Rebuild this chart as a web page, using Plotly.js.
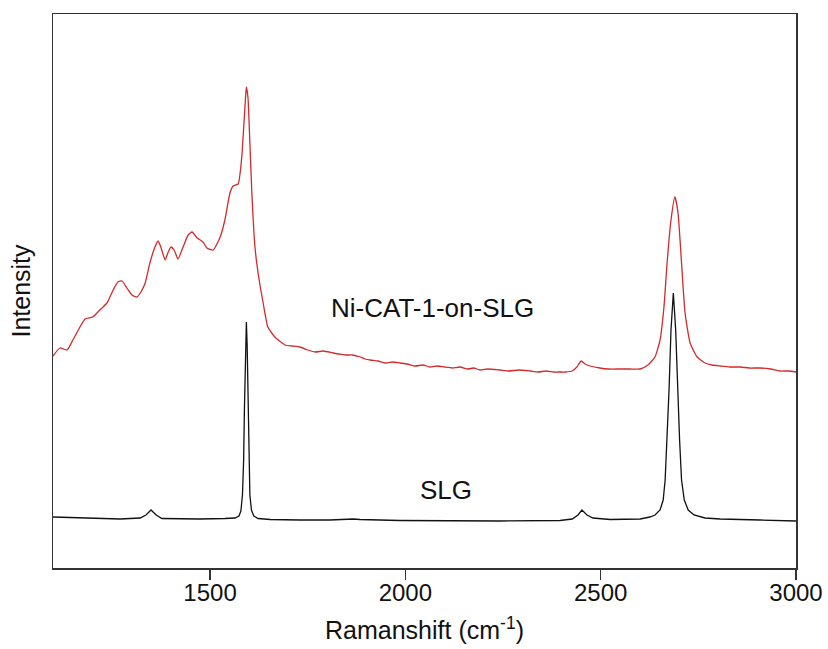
<!DOCTYPE html>
<html>
<head>
<meta charset="utf-8">
<script src="https://cdn.plot.ly/plotly-3.0.1.min.js"></script>
<style>html,body{margin:0;padding:0;background:#fff;}#chart{width:828px;height:649px;}</style>
</head>
<body>
<div id="chart"></div>
<script>
// Ni-CAT-1-on-SLG spectrum (Raman shift, cm^-1 ; intensity, a.u.)
const niCatShift = [1098,1116,1134,1149,1167,1180,1200,1218,1236,1252,1264,1275,1287,1300,1313,1323,1334,1346,1359,1367,1374,1385,1392,1400,1408,1418,1431,1444,1454,1467,1482,1492,1508,1526,1538,1551,1559,1572,1577,1582,1590,1593,1597,1602,1607,1615,1623,1636,1648,1666,1692,1710,1730,1750,1769,1790,1815,1830,1846,1865,1884,1897,1910,1930,1950,1968,1986,2005,2025,2045,2063,2082,2100,2120,2140,2160,2175,2191,2210,2242,2265,2290,2319,2340,2360,2380,2396,2410,2427,2439,2450,2460,2473,2498,2520,2550,2575,2601,2621,2639,2652,2662,2670,2680,2690,2698,2706,2716,2729,2747,2767,2785,2806,2830,2857,2880,2908,2935,2959,2980,3000];
const niCatInt   = [212,220,218,228,241,249,251,258,265,278,286,287,280,273,271,276,285,305,321,327,321,308,315,321,318,309,321,333,336,330,326,320,318,331,348,375,382,384,395,415,465,481,471,425,375,321,295,265,241,231,223,222,221,218,216,217,215,214,213,213,211,209,208,207,205,206,205,204,202,203,201,202,201,200,201,199,200,198,199,198,197,198,197,196,197,196,196,196,197,201,207,204,202,200,199,199,199,199,203,211,228,261,305,348,371,355,311,255,225,211,205,203,202,201,201,200,200,199,197,197,196];

// SLG spectrum
const slgShift = [1098,1167,1270,1321,1336,1349,1362,1377,1474,1538,1564,1574,1579,1583,1586,1588,1591,1593,1595,1597,1600,1602,1606,1612,1623,1654,1730,1807,1866,1884,1986,2114,2242,2396,2427,2442,2452,2465,2480,2524,2575,2601,2626,2639,2652,2660,2665,2670,2675,2680,2686,2692,2697,2702,2707,2714,2724,2739,2767,2806,2908,3000];
const slgInt   = [51,50,49,50,53,58,53,49.5,49,49.5,50,52,57,73,108,158,218,246,223,168,108,73,58,52,49.5,48.5,48,48,49,48.5,47.5,47,47,47.5,49,53,58,53,50,48.5,49,49,51,53,58,68,88,128,178,238,275,238,178,128,88,68,58,53,50,49,48,47];

const sampleLabels = ["Ni-CAT-1-on-SLG", "SLG"];
const labelX = [2069, 2105];
const labelY = [260, 78];

const FONT = "Arial, 'Liberation Sans', Helvetica, sans-serif";

const traces = [
  {x: niCatShift, y: niCatInt, type: "scatter", mode: "lines", name: sampleLabels[0],
   line: {color: "#d42a2a", width: 1.3, shape: "spline", smoothing: 0.5}},
  {x: slgShift, y: slgInt, type: "scatter", mode: "lines", name: sampleLabels[1],
   line: {color: "#111111", width: 1.3}}
];

const layout = {
  width: 828, height: 649,
  margin: {l: 53, r: 32, t: 14, b: 81},
  paper_bgcolor: "#fff", plot_bgcolor: "#fff",
  showlegend: false,
  font: {family: FONT, color: "#111", size: 24},
  xaxis: {
    range: [1098, 3000],
    tickvals: [1500, 2000, 2500, 3000],
    ticktext: ["1500", "2000", "2500", "3000"],
    ticks: "outside", ticklen: 10, tickwidth: 1.2, tickcolor: "#333",
    ticklabelstandoff: -7,
    showline: true, linecolor: "#333", linewidth: 1.5, mirror: true,
    showgrid: false, zeroline: false,
    tickfont: {family: FONT, size: 24, color: "#111"},
    title: {text: "Ramanshift (cm<sup>-1</sup>)", font: {family: FONT, size: 25, color: "#111"}, standoff: 16}
  },
  yaxis: {
    range: [0, 554],
    showticklabels: false, ticks: "",
    showline: true, linecolor: "#333", linewidth: 1.5, mirror: true,
    showgrid: false, zeroline: false,
    title: {text: "Intensity", font: {family: FONT, size: 25, color: "#111"}, standoff: 14}
  },
  annotations: sampleLabels.map((t, i) => ({
    x: labelX[i], y: labelY[i], xref: "x", yref: "y", text: t, showarrow: false,
    font: {family: FONT, size: 26, color: "#111"}
  }))
};

Plotly.newPlot("chart", traces, layout, {staticPlot: true, displayModeBar: false});
</script>
</body>
</html>
